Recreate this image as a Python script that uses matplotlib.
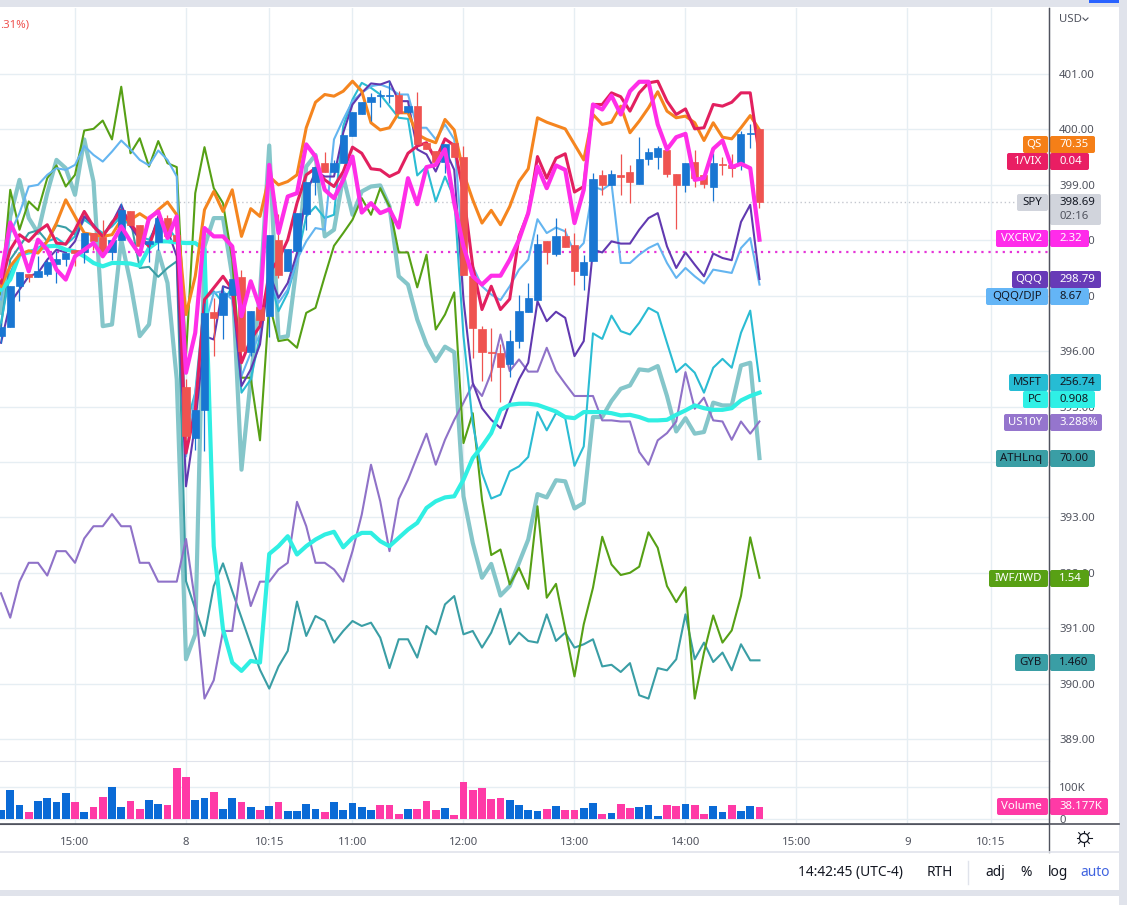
import matplotlib
matplotlib.use('Agg')
import matplotlib.pyplot as plt
import numpy as np
from matplotlib.patches import FancyBboxPatch, Rectangle, Circle

plt.rcParams['font.family'] = ['Noto Sans', 'DejaVu Sans']

# bars counted in 5 min steps from the open of the 8th, first one is 20 bars before
bars = np.arange(-20, 63)

spy_open = [396.28,396.43,397.17,397.40,397.33,397.40,397.57,397.66,397.83,397.78,398.13,398.05,397.78,398.01,398.53,398.27,397.94,397.96,398.40,398.10,
    395.36,394.44,394.93,396.71,396.65,397.02,397.34,395.98,396.80,396.63,398.01,397.44,397.80,398.47,399.05,399.39,399.23,399.39,399.89,400.27,400.49,400.60,400.61,400.62,400.32,400.43,399.76,399.61,399.42,399.76,
    399.50,397.35,396.39,395.98,395.97,395.76,396.18,396.70,396.92,397.99,397.75,398.08,397.92,397.38,397.62,399.17,399.00,399.18,399.24,399.02,399.47,399.51,399.62,399.20,398.99,399.41,399.17,398.97,399.38,399.36,399.39,399.92,400.00]
spy_high = [396.51,397.17,397.43,397.40,397.71,397.65,397.80,397.77,397.83,398.13,398.13,398.37,398.01,398.67,398.53,398.27,398.00,398.40,398.46,398.10,
    395.50,394.93,396.87,396.96,397.17,397.30,397.46,396.72,396.80,398.10,398.48,397.84,398.49,399.06,399.33,399.60,399.45,399.90,400.31,400.50,400.66,400.72,400.87,400.69,400.43,400.68,399.76,399.61,399.73,399.76,
    399.70,397.35,396.45,396.42,396.12,396.38,397.02,397.22,398.12,397.99,398.40,398.22,398.13,397.74,399.21,399.26,399.26,399.56,399.36,399.86,399.67,399.70,399.67,399.20,399.40,399.62,399.17,399.57,399.51,399.56,399.98,400.09,400.03]
spy_low = [396.15,396.43,396.90,397.24,397.33,397.35,397.23,397.53,397.53,397.59,397.83,397.78,397.65,398.01,398.27,397.80,397.60,397.83,398.07,397.98,
    394.40,394.22,394.19,395.91,396.21,397.02,395.96,395.91,396.56,396.26,397.32,397.44,397.80,398.18,398.82,399.24,399.23,399.39,399.89,400.27,400.15,400.40,400.48,400.30,400.30,399.73,399.64,399.42,399.21,399.50,
    397.37,395.88,395.46,395.46,395.08,395.53,396.05,396.70,396.92,397.58,397.71,397.88,397.19,397.11,397.62,398.82,399.00,398.82,398.68,399.02,399.35,399.29,399.15,398.21,398.87,398.97,398.94,398.70,399.18,399.14,399.27,399.67,398.58]
spy_close = [396.43,397.17,397.43,397.33,397.45,397.61,397.66,397.77,397.77,398.13,397.98,397.78,398.01,398.55,398.27,397.89,397.98,398.40,398.07,397.98,
    394.46,394.93,396.69,396.59,397.04,397.30,396.00,396.72,396.56,398.10,397.38,397.84,398.49,399.06,399.33,399.24,399.39,399.90,400.31,400.50,400.59,400.63,400.62,400.30,400.43,399.73,399.64,399.42,399.73,399.50,
    397.37,396.41,395.98,395.96,395.71,396.19,396.73,396.95,397.94,397.78,398.08,397.88,397.44,397.61,399.11,399.00,399.20,399.14,399.05,399.47,399.59,399.67,399.20,398.99,399.40,399.12,399.02,399.40,399.35,399.30,399.92,399.94,398.69]

iwf_iwd = [397.02,398.91,398.19,398.70,398.54,399.12,399.35,398.97,399.18,399.98,400.01,400.16,399.82,400.77,399.57,399.84,399.33,399.79,399.39,399.32,
    395.91,398.85,399.68,398.94,398.67,397.65,395.52,395.52,394.39,396.87,396.18,396.21,396.06,396.69,396.78,397.35,397.90,398.13,398.37,398.76,398.46,398.94,398.61,397.78,397.78,397.15,397.74,396.39,396.66,397.06,
    394.34,394.88,393.32,392.32,392.42,391.79,392.09,391.71,393.20,391.55,391.80,390.98,390.13,391.07,391.73,392.65,392.15,391.96,392.00,392.11,392.73,392.45,391.76,391.47,391.74,389.73,390.56,391.23,390.74,390.96,391.58,392.64,391.91]
qqq_djp = [396.93,398.13,398.49,398.97,399.00,399.18,399.30,399.27,399.36,399.70,399.54,399.42,399.60,399.80,399.64,399.45,399.35,399.62,399.45,399.15,
    394.10,395.25,396.45,397.05,397.08,396.93,395.55,395.97,396.30,397.41,396.87,397.11,397.65,397.98,398.22,398.19,399.82,400.18,400.51,400.66,400.78,400.81,400.75,400.63,400.63,400.03,400.03,399.82,400.09,399.82,
    397.65,397.53,397.17,397.02,396.92,397.17,397.47,397.65,398.38,398.13,398.23,398.16,397.77,397.95,398.97,398.91,399.03,397.59,397.59,397.74,397.86,397.94,397.59,397.32,397.50,397.35,397.22,397.47,397.44,397.41,397.86,398.04,397.20]
qqq = [396.15,396.87,397.11,397.35,397.41,397.65,397.83,397.78,397.98,398.43,398.28,398.07,398.31,398.64,398.25,398.01,397.92,398.43,398.19,397.71,
    393.56,394.70,396.27,396.21,397.17,397.11,395.37,395.67,396.12,397.41,396.96,397.23,397.77,398.85,399.24,399.15,399.15,399.94,400.45,400.66,400.83,400.81,400.87,400.51,400.51,399.64,399.55,399.24,399.64,399.27,
    396.93,395.43,394.97,394.76,394.61,395.07,395.49,395.79,396.90,396.54,396.71,396.60,395.91,396.18,397.83,397.78,397.98,397.94,397.94,398.19,398.40,398.49,397.89,397.50,397.78,397.56,397.35,397.76,397.68,397.64,398.33,398.64,397.30]
msft = [396.51,397.41,397.77,397.80,397.86,397.98,398.04,397.92,398.07,398.37,398.25,398.13,398.25,398.43,398.25,398.07,398.01,398.31,398.25,398.01,
    394.64,395.25,396.93,397.08,396.87,397.17,395.25,395.49,396.27,397.35,396.72,397.05,397.65,398.43,398.61,398.40,398.46,400.06,400.54,400.84,400.75,400.63,400.42,400.21,400.19,399.17,399.33,398.70,399.15,398.76,
    396.27,394.70,393.80,393.34,393.41,393.83,393.92,394.09,394.90,394.57,394.88,394.79,393.93,394.28,396.32,396.22,396.64,396.36,396.30,396.51,396.78,396.69,396.15,395.62,395.77,395.61,395.25,395.70,395.86,395.70,396.33,396.73,395.46]
us10y = [391.63,391.19,391.84,392.18,392.18,391.95,392.39,392.39,392.18,392.62,392.84,392.84,393.06,392.84,392.84,392.18,392.18,391.84,391.84,391.84,
    392.61,391.46,389.73,390.06,390.95,390.95,392.18,391.40,391.84,391.84,392.06,392.18,393.28,392.84,392.18,392.18,392.06,391.84,392.39,393.05,393.95,393.29,392.39,393.33,393.68,394.10,394.51,393.95,394.40,394.76,
    395.07,395.40,395.19,395.61,396.30,395.64,395.85,395.63,395.63,396.06,395.64,395.41,395.19,395.19,395.19,394.75,394.75,394.73,394.73,394.18,393.95,394.39,394.52,394.73,395.62,394.96,395.16,394.75,394.73,394.40,394.73,394.51,394.73]
gyb = [396.45,397.65,397.89,398.13,398.18,397.98,398.27,398.23,398.10,398.43,398.25,398.07,398.34,398.43,398.37,397.50,397.52,397.34,397.50,397.62,
    391.85,391.35,390.86,391.76,392.17,391.67,391.19,390.71,390.25,389.91,390.31,390.59,391.48,390.86,391.22,391.13,390.74,390.95,391.13,391.04,391.10,390.83,390.28,390.80,390.80,390.47,391.04,390.89,391.43,391.58,
    390.89,390.95,390.65,390.92,391.35,390.71,390.92,390.77,390.74,391.25,390.77,390.92,390.65,390.71,390.80,390.31,390.34,390.21,390.37,389.79,389.73,390.28,390.24,390.44,391.25,390.44,390.74,390.39,390.56,390.24,390.71,390.42,390.42]
athlnq = [396.69,398.43,399.09,398.40,398.13,398.85,399.45,399.30,398.82,399.82,399.06,396.45,396.48,398.01,397.23,396.27,396.48,397.80,397.23,395.49,
    390.44,390.89,397.89,398.40,398.40,397.35,393.86,395.49,397.05,399.71,396.24,396.27,397.59,399.33,399.54,398.07,398.19,399.15,398.46,398.88,398.97,398.99,398.61,397.35,397.20,396.57,396.12,395.82,396.08,395.98,
    393.38,392.54,391.91,392.16,391.59,391.76,392.18,392.60,393.42,393.36,393.67,393.65,393.16,393.26,394.81,394.81,395.10,395.32,395.38,395.67,395.65,395.73,395.19,394.55,394.79,394.51,394.54,395.07,395.02,395.02,395.74,395.79,394.07]
pc = [397.11,397.29,397.74,397.78,397.83,397.89,397.90,397.83,397.80,397.71,397.59,397.53,397.59,397.59,397.58,397.54,397.86,397.98,397.98,397.96,
    397.95,397.95,397.83,392.48,390.98,390.38,390.23,390.41,390.38,392.34,392.48,392.66,392.33,392.48,392.60,392.69,392.74,392.46,392.63,392.72,392.72,392.57,392.48,392.63,392.78,392.90,393.17,393.29,393.36,393.38,
    393.68,394.07,394.28,394.52,394.94,395.03,395.05,395.05,395.03,394.97,394.91,394.81,394.79,394.90,394.90,394.90,394.88,394.84,394.85,394.81,394.75,394.75,394.76,394.85,394.93,395.02,394.97,394.94,394.94,394.97,395.11,395.19,395.25]
qs = [397.17,397.53,397.74,397.81,397.77,397.98,398.31,398.73,398.43,398.13,398.10,398.07,398.10,398.37,398.37,398.48,398.37,398.55,398.69,398.46,
    396.66,397.35,398.55,398.88,398.52,398.91,398.07,398.57,398.43,399.15,399.00,399.06,399.18,400.03,400.49,400.63,400.60,400.69,400.87,400.69,400.12,399.99,400.03,400.30,400.30,399.91,399.82,399.76,400.18,399.99,
    399.21,398.73,398.31,398.54,398.28,398.61,399.06,399.29,400.21,400.13,400.07,400.01,399.73,399.45,400.27,400.09,400.13,400.42,399.94,400.15,400.39,400.68,400.33,400.21,400.24,400.12,399.80,400.12,399.86,399.83,400.03,400.25,399.99]
one_vix = [397.23,397.83,398.10,397.98,398.16,398.28,397.95,397.93,398.19,398.52,398.25,398.07,398.31,398.55,398.31,398.07,397.89,398.37,398.25,398.31,
    394.16,394.94,396.93,397.14,397.35,397.11,395.79,396.21,396.45,397.41,397.65,398.01,398.67,399.18,399.30,399.09,398.97,399.24,399.68,399.57,399.29,399.27,399.15,399.23,399.57,399.70,399.76,399.45,399.83,399.71,
    398.85,397.53,396.75,397.17,396.75,396.94,398.07,398.49,399.51,399.12,399.48,399.56,398.87,398.97,400.45,400.45,400.66,400.59,400.33,400.66,400.84,400.87,400.51,400.27,400.37,400.01,400.03,400.45,400.42,400.49,400.66,400.66,399.51]
vxcrv2 = [397.35,398.32,397.95,397.44,398.01,397.83,397.47,397.29,397.71,397.83,397.95,397.71,397.95,398.25,397.98,397.74,398.40,398.52,398.04,398.43,
    395.61,396.33,398.22,398.07,398.07,397.89,396.63,397.26,396.78,399.36,398.13,398.79,398.85,399.73,399.51,398.91,398.76,399.09,399.51,398.50,398.67,398.49,398.56,398.23,399.12,398.65,399.32,399.36,399.64,398.67,
    397.89,397.35,397.20,397.36,397.36,397.65,398.01,398.49,399.33,398.94,399.35,399.27,398.31,398.91,400.45,400.36,400.61,400.27,400.69,400.86,400.86,400.09,399.64,399.86,399.92,399.09,399.12,399.65,399.80,399.32,399.38,399.30,398.01]

# volume in thousands, 1 = up bar (blue), 0 = down bar (pink)
volume = [28,90,43,22,56,65,53,80,53,22,37,68,99,37,56,31,59,46,43,158,
    130,59,65,84,31,65,53,37,28,40,53,25,25,46,31,22,53,28,49,37,28,43,43,15,31,31,56,28,34,12,
    114,90,96,62,65,59,43,28,25,31,40,28,28,34,49,15,19,46,34,37,43,9,43,40,46,43,15,40,22,43,25,40,38.177]
vol_up = [1,1,1,0,1,1,1,1,0,1,0,0,1,1,0,0,1,1,0,0,
    0,1,1,0,1,1,0,1,0,1,0,1,1,1,1,0,1,1,1,1,1,0,0,0,1,0,0,0,1,0,
    0,0,0,0,0,1,1,1,1,0,1,0,0,1,1,0,1,0,0,1,1,1,0,0,1,0,0,1,1,0,1,1,0]

time_ticks = [-12, 0, 9, 18, 30, 42, 54, 66, 78, 87]
time_labels = ['15:00', '8', '10:15', '11:00', '12:00', '13:00', '14:00', '15:00', '9', '10:15']
price_ticks = [389, 390, 391, 392, 393, 394, 395, 396, 397, 398, 399, 400, 401]
spy_last = 398.69
vxcrv2_level = 397.78

UP = '#1976d2'
DOWN = '#ef5350'
VOL_UP = '#0a6ad6'
VOL_DOWN = '#ff3aa6'
GRID = '#e6eef3'
FS = 8.2
W, H = 1127, 905

fig = plt.figure(figsize=(W / 100, H / 100), dpi=100, facecolor='white')


def frac(x0, y0, x1, y1):
    # pixel box -> figure fractions
    return [x0 / W, 1 - y1 / H, (x1 - x0) / W, (y1 - y0) / H]


# background bands and panel
bg = fig.add_axes([0, 0, 1, 1], zorder=0)
bg.set_xlim(0, W)
bg.set_ylim(H, 0)
bg.axis('off')
bg.add_patch(Rectangle((0, 0), W, 7, color='#e0e3eb', lw=0))
bg.add_patch(Rectangle((1089, 0), 38, 3, color='#2962ff', lw=0))
bg.add_patch(Rectangle((1119, 0), 8, H, color='#e0e3eb', lw=0))
bg.add_patch(Rectangle((0, 890), W, 6, color='#e0e3eb', lw=0))

# price pane
ax = fig.add_axes(frac(0, 8, 1049, 761), zorder=1)
ax.patch.set_alpha(0)
ax.set_xlim(-20.108, 93.3)
ax.set_ylim(401 - (761 - 74) / 55.42, 401 + (74 - 8) / 55.42)
ax.set_yticks(price_ticks)
ax.set_yticklabels(['%.2f' % p for p in price_ticks])
ax.yaxis.tick_right()
ax.set_xticks(time_ticks)
ax.set_xticklabels([])
ax.grid(True, color=GRID, lw=1)
ax.set_axisbelow(True)
ax.tick_params(axis='both', length=0, pad=7.2, labelsize=FS, labelcolor='#50535e')
for s in ['top', 'left', 'bottom']:
    ax.spines[s].set_visible(False)
ax.spines['right'].set_color('#50535e')

ax.axhline(spy_last, color='#c4c7cf', lw=1, ls=(0, (1, 2)), zorder=1.5)
ax.axhline(vxcrv2_level, color='#e535d8', lw=1.6, ls=(0, (1, 2.2)), zorder=1.5)

ax.plot(bars, athlnq, color='#85c6ca', lw=3.0, zorder=2)
ax.plot(bars, gyb, color='#3a9ea5', lw=1.5, zorder=2.1)
ax.plot(bars, us10y, color='#8f72c8', lw=1.5, zorder=2.2)
ax.plot(bars, iwf_iwd, color='#56a015', lw=1.5, zorder=2.3)
ax.plot(bars, msft, color='#2bbcd3', lw=1.5, zorder=2.4)
ax.plot(bars, qqq_djp, color='#64b5f0', lw=1.5, zorder=2.5)
ax.plot(bars, qqq, color='#6139b0', lw=1.5, zorder=2.6)
ax.plot(bars, pc, color='#30efe3', lw=3.0, zorder=2.7)
ax.plot(bars, qs, color='#f5851f', lw=2.2, zorder=2.8)
ax.plot(bars, one_vix, color='#e2205f', lw=2.2, zorder=2.9)

# candles
o = np.array(spy_open)
c = np.array(spy_close)
cols = [UP if b >= a else DOWN for a, b in zip(o, c)]
ax.vlines(bars, spy_low, spy_high, colors=cols, lw=0.9, zorder=3)
ax.bar(bars, np.abs(c - o), bottom=np.minimum(o, c), width=0.76, color=cols, edgecolor=cols, lw=0.5, zorder=3.1)

ax.plot(bars, vxcrv2, color='#ff2ee8', lw=3.0, zorder=4)

# volume pane
vax = fig.add_axes(frac(0, 761, 1049, 824), zorder=1)
vax.patch.set_alpha(0)
vax.set_xlim(ax.get_xlim())
vax.set_ylim(-15.5, 179.6)
vax.bar(bars, volume, width=0.86, color=[VOL_UP if u else VOL_DOWN for u in vol_up], zorder=3)
vax.set_yticks([0, 100])
vax.set_yticklabels(['0', '100K'])
vax.yaxis.tick_right()
vax.set_xticks(time_ticks)
vax.set_xticklabels(time_labels)
vax.grid(True, color=GRID, lw=1)
vax.set_axisbelow(True)
vax.tick_params(axis='y', length=0, pad=7.2, labelsize=FS, labelcolor='#50535e')
vax.tick_params(axis='x', length=0, pad=9, labelsize=FS, labelcolor='#50535e')
vax.spines['top'].set_color('#e0e3eb')
vax.spines['left'].set_visible(False)
vax.spines['right'].set_color('#50535e')
vax.spines['bottom'].set_color('#50535e')

# everything painted over the chart, in pixels
top = fig.add_axes([0, 0, 1, 1], zorder=5)
top.set_xlim(0, W)
top.set_ylim(H, 0)
top.axis('off')
top.patch.set_alpha(0)

top.plot([1049, 1049], [8, 852], color='#50535e', lw=1)
top.plot([0, 1119], [824, 824], color='#50535e', lw=1.2)
top.plot([0, 1119], [852, 852], color='#e0e3eb', lw=1.2)
top.plot([968, 968], [861, 884], color='#e0e3eb', lw=1)


def tag(x0, x1, y0, y1, col):
    top.add_patch(FancyBboxPatch((x0 + 1, y0 + 1), x1 - x0 - 2, y1 - y0 - 2, boxstyle='round,pad=1,rounding_size=2',
                                 fc=col, ec='none'))


def label(name, value, name_x, value_x, y, col, tcol):
    tag(name_x, 1048, y, y + 17, col)
    tag(1050, value_x, y, y + 17, col)
    top.text(1042, y + 8.5, name, color=tcol, ha='right', va='center', fontsize=FS)
    top.text(1059, y + 8.5, value, color=tcol, ha='left', va='center', fontsize=FS)


DARK = '#131722'
label('QS', '70.35', 1023, 1095, 136, '#f57f17', 'white')
label('1/VIX', '0.04', 1007, 1089, 153, '#e91e63', 'white')
tag(1017, 1048, 194, 211, '#d1d4dc')
tag(1050, 1101, 194, 225, '#d1d4dc')
top.text(1042, 202.5, 'SPY', color=DARK, ha='right', va='center', fontsize=FS)
top.text(1059, 202.5, '398.69', color=DARK, ha='left', va='center', fontsize=FS)
top.text(1059, 216.5, '02:16', color='#50535e', ha='left', va='center', fontsize=FS)
label('VXCRV2', '2.32', 996, 1089, 230, '#ff2bea', 'white')
label('QQQ', '298.79', 1012, 1101, 271, '#673ab7', 'white')
label('QQQ/DJP', '8.67', 986, 1089, 288, '#64b5f6', DARK)
label('MSFT', '256.74', 1009, 1101, 374, '#26bcd4', DARK)
label('PC', '0.908', 1023, 1095, 391, '#2ff0e6', DARK)
label('US10Y', '3.288%', 1004, 1102, 414, '#9575cd', 'white')
label('ATHLnq', '70.00', 996, 1095, 450, '#3a9ea5', DARK)
label('IWF/IWD', '1.54', 989, 1089, 570, '#58a014', 'white')
label('GYB', '1.460', 1015, 1095, 654, '#3a9ea5', DARK)
label('Volume', '38.177K', 997, 1108, 798, '#ff3aa6', 'white')

top.text(1059, 19, 'USD', color='#50535e', ha='left', va='center', fontsize=FS)
top.plot([1083, 1085.5, 1088], [18, 20.5, 18], color='#50535e', lw=0.8)
top.text(0, 25, '.31%)', color='#ef5350', ha='left', va='center', fontsize=FS)

# settings icon
top.add_patch(Circle((1084, 838), 4.5, fc='none', ec='#131722', lw=0.9))
for a in np.arange(0, 2 * np.pi, np.pi / 4):
    top.plot([1084 + 5 * np.cos(a), 1084 + 7.5 * np.cos(a)], [838 + 5 * np.sin(a), 838 + 7.5 * np.sin(a)], color='#131722', lw=0.8)

top.text(798, 872, '14:42:45 (UTC-4)', color='#131722', ha='left', va='center', fontsize=9.9)
top.text(927, 872, 'RTH', color='#131722', ha='left', va='center', fontsize=9.9)
top.text(985, 872, 'adj', color='#131722', ha='left', va='center', fontsize=9.9)
top.text(1020, 872, '%', color='#131722', ha='left', va='center', fontsize=9.9)
top.text(1048, 872, 'log', color='#131722', ha='left', va='center', fontsize=9.9)
top.text(1080, 872, 'auto', color='#3f63e0', ha='left', va='center', fontsize=9.9)

fig.savefig('out.png', dpi=100)
